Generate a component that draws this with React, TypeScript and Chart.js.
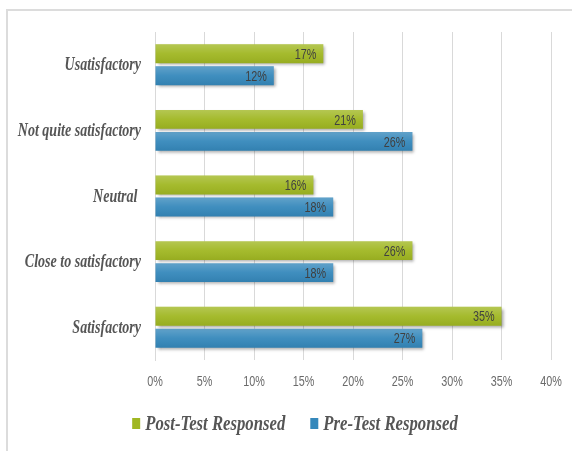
import React, { useEffect, useRef } from "react";
import { Chart, registerables } from "chart.js";

Chart.register(...registerables);

const categories = [
  "Usatisfactory",
  "Not quite satisfactory",
  "Neutral ",
  "Close to satisfactory",
  "Satisfactory",
];
const postTest = [17, 21, 16, 26, 35];
const preTest = [12, 26, 18, 18, 27];
const seriesNames = ["Post-Test Responsed", "Pre-Test Responsed"];
const seriesColors = ["#a0b722", "#3588bb"];
const xMax = 40;
const xStep = 5;

const SANS = "'Liberation Sans', Arial, sans-serif";
const SERIF = "'Liberation Serif', 'Times New Roman', serif";

function squeezedText(ctx: any, text: string, x: number, y: number, font: string, color: string, align: string, sx: number) {
  ctx.save();
  ctx.font = font;
  ctx.fillStyle = color;
  ctx.textAlign = align;
  ctx.textBaseline = "middle";
  ctx.translate(x, y);
  ctx.scale(sx, 1);
  ctx.fillText(text, 0, 0);
  ctx.restore();
}

const customPlugin = {
  id: "custom",
  beforeDatasetsDraw(chart: any) {
    const ctx = chart.ctx;
    ctx.save();
    ctx.shadowColor = "rgba(0,0,0,0.35)";
    ctx.shadowOffsetX = 2;
    ctx.shadowOffsetY = 2;
    ctx.shadowBlur = 3;
  },
  afterDatasetsDraw(chart: any) {
    const ctx = chart.ctx;
    ctx.restore();
    chart.data.datasets.forEach((ds: any, di: number) => {
      const meta = chart.getDatasetMeta(di);
      meta.data.forEach((bar: any, i: number) => {
        const top = bar.y - bar.height / 2;
        const g = ctx.createLinearGradient(0, top, 0, top + bar.height);
        g.addColorStop(0, "rgba(255,255,255,0.22)");
        g.addColorStop(0.5, "rgba(255,255,255,0.05)");
        g.addColorStop(1, "rgba(0,0,0,0.06)");
        ctx.save();
        ctx.fillStyle = g;
        ctx.fillRect(bar.base, top, bar.x - bar.base, bar.height);
        ctx.restore();
        squeezedText(ctx, ds.data[i] + "%", bar.x - 7, bar.y + 1, `15px ${SANS}`, "#404040", "right", 0.72);
      });
    });
  },
  afterDraw(chart: any) {
    const ctx = chart.ctx;
    const xs = chart.scales.x;
    const ys = chart.scales.y;
    for (let v = 0; v <= xMax; v += xStep) {
      const px = xs.getPixelForValue(v);
      squeezedText(ctx, v + "%", px, 382, `15px ${SANS}`, "#6a6a6a", "center", 0.72);
    }
    chart.data.labels.forEach((lab: string, i: number) => {
      const py = ys.getPixelForTick(i);
      squeezedText(ctx, lab, 141, py + 1, `italic bold 18px ${SERIF}`, "#555555", "right", 0.78);
    });
    // legend
    const sx = 0.76;
    const font = `italic bold 22px ${SERIF}`;
    ctx.save();
    ctx.font = font;
    const widths = seriesNames.map((n) => ctx.measureText(n).width * sx);
    ctx.restore();
    const markerW = 8, gap = 5, spacing = 25;
    const total = widths.reduce((a, w) => a + markerW + gap + w, 0) + spacing;
    let x = 295 - total / 2;
    const cy = 424;
    seriesNames.forEach((n, i) => {
      ctx.save();
      ctx.fillStyle = seriesColors[i];
      ctx.fillRect(x, cy - 6, markerW, 11);
      ctx.restore();
      x += markerW + gap;
      squeezedText(ctx, n, x, cy, font, "#555555", "left", sx);
      x += widths[i] + spacing;
    });
  },
};

export default function App() {
  const ref = useRef<HTMLCanvasElement>(null);
  useEffect(() => {
    document.body.style.margin = "0";
    const chart = new Chart(ref.current!, {
      type: "bar",
      data: {
        labels: categories,
        datasets: [
          { label: seriesNames[0], data: postTest, backgroundColor: seriesColors[0], borderWidth: 0 },
          { label: seriesNames[1], data: preTest, backgroundColor: seriesColors[1], borderWidth: 0 },
        ],
      },
      options: {
        indexAxis: "y",
        animation: false,
        responsive: false,
        maintainAspectRatio: false,
        devicePixelRatio: 1,
        layout: { padding: { top: 32, right: 21, bottom: 49, left: 0 } },
        datasets: { bar: { categoryPercentage: 0.67, barPercentage: 0.86 } },
        scales: {
          x: {
            min: 0,
            max: xMax,
            ticks: { display: false, stepSize: xStep },
            grid: { color: "#d9d9d9", drawTicks: false },
            border: { display: false },
            afterFit: (s: any) => { s.height = 42; },
          },
          y: {
            ticks: { display: false },
            grid: { display: false, drawTicks: false },
            border: { display: true, color: "#d9d9d9" },
            afterFit: (s: any) => { s.width = 155; },
          },
        },
        plugins: {
          legend: { display: false },
          tooltip: { enabled: false },
        },
      },
      plugins: [customPlugin],
    });
    return () => chart.destroy();
  }, []);
  return (
    <div style={{ position: "relative", width: 572, height: 451, overflow: "hidden", background: "#fff" }}>
      <div style={{ position: "absolute", left: 6, top: 9, width: 620, height: 520, border: "2px solid #dcdcdc" }} />
      <canvas ref={ref} width={572} height={451} style={{ position: "absolute", left: 0, top: 0, width: 572, height: 451 }} />
    </div>
  );
}
